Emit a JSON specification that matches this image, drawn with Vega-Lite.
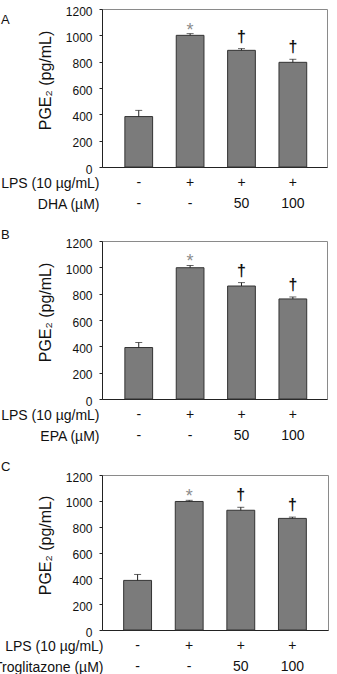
{
  "$schema": "https://vega.github.io/schema/vega-lite/v6.json",
  "background": "white",
  "autosize": {"type": "pad"},
  "padding": {"left": -7, "top": 4, "right": 0, "bottom": 0},
  "datasets": {
    "pge": [
      {"panel": "A", "key": "-|-", "value": 383, "upper": 430, "sig": ""},
      {"panel": "A", "key": "+|-", "value": 1000, "upper": 1013, "sig": "*"},
      {"panel": "A", "key": "+|50", "value": 886, "upper": 899, "sig": "†"},
      {"panel": "A", "key": "+|100", "value": 795, "upper": 818, "sig": "†"},
      {"panel": "B", "key": "-|-", "value": 391, "upper": 429, "sig": ""},
      {"panel": "B", "key": "+|-", "value": 997, "upper": 1014, "sig": "*"},
      {"panel": "B", "key": "+|50", "value": 858, "upper": 884, "sig": "†"},
      {"panel": "B", "key": "+|100", "value": 760, "upper": 775, "sig": "†"},
      {"panel": "C", "key": "-|-", "value": 384, "upper": 430, "sig": ""},
      {"panel": "C", "key": "+|-", "value": 995, "upper": 1004, "sig": "*"},
      {"panel": "C", "key": "+|50", "value": 927, "upper": 950, "sig": "†"},
      {"panel": "C", "key": "+|100", "value": 864, "upper": 874, "sig": "†"}
    ]
  },
  "config": {
    "font": "Liberation Sans",
    "view": {"stroke": "#8a8a8a", "strokeWidth": 1},
    "axis": {"grid": false, "domainColor": "#222", "tickColor": "#222", "labelColor": "#111", "titleColor": "#111", "labelFont": "Liberation Sans", "titleFont": "Liberation Sans", "titleFontWeight": "normal", "labelOverlap": false},
    "axisY": {"title": "PGE₂ (pg/mL)", "values": [0, 200, 400, 600, 800, 1000, 1200], "tickCount": 7, "format": "d", "labelOverlap": false, "tickSize": 3, "labelPadding": 7, "labelFontSize": 12, "labelOffset": 2, "titleFontSize": 16, "titlePadding": 12},
    "title": {"font": "Liberation Sans", "fontWeight": "normal", "fontSize": 13, "color": "#111", "anchor": "start", "frame": "group"}
  },
  "spacing": 16,
  "vconcat": [
    {
      "title": {"text": "A", "dx": -101, "dy": 26},
      "width": 225, "height": 158,
      "data": {"name": "pge"},
      "transform": [{"filter": "datum.panel === 'A'"}],
      "encoding": {
        "x": {"field": "key", "type": "nominal", "sort": null, "scale": {"paddingInner": 0.46, "paddingOuter": 0.42, "align": 0.53},
          "axis": {"title": ["LPS (10 µg/mL)", "DHA (µM)"], "labelExpr": "split(datum.value, '|')", "labelAngle": 0, "ticks": false, "labelFontSize": 14, "labelLineHeight": 21, "labelPadding": 8, "titleX": -3, "titleY": 9, "titleAlign": "right", "titleBaseline": "top", "titleFontSize": 14, "titleLineHeight": 21}}
      },
      "layer": [
        {"mark": {"type": "bar", "fill": "#7b7b7b", "stroke": "#333", "strokeWidth": 1},
          "encoding": {"y": {"field": "value", "type": "quantitative", "scale": {"domain": [0, 1200], "nice": false}, "title": "PGE₂ (pg/mL)", "axis": {"titleY": 71}}}},
        {"mark": {"type": "rule", "color": "#222"}, "encoding": {"y": {"field": "value", "type": "quantitative", "title": "PGE₂ (pg/mL)", "axis": {"titleY": 71}}, "y2": {"field": "upper"}}},
        {"mark": {"type": "tick", "color": "#222", "size": 7, "thickness": 1}, "encoding": {"y": {"field": "upper", "type": "quantitative", "title": "PGE₂ (pg/mL)", "axis": {"titleY": 71}}}},
        {"transform": [{"filter": "datum.sig === '*'"}], "mark": {"type": "text", "color": "#8c8c8c", "fontSize": 18, "baseline": "alphabetic", "dy": 2}, "encoding": {"y": {"field": "upper", "type": "quantitative", "title": "PGE₂ (pg/mL)", "axis": {"titleY": 71}}, "text": {"field": "sig"}}},
        {"transform": [{"filter": "datum.sig === '†'"}], "mark": {"type": "text", "color": "#111", "fontSize": 16, "fontWeight": "bold", "baseline": "alphabetic", "dy": -7}, "encoding": {"y": {"field": "upper", "type": "quantitative", "title": "PGE₂ (pg/mL)", "axis": {"titleY": 71}}, "text": {"field": "sig"}}}
      ]
    },
    {
      "title": {"text": "B", "dx": -101, "dy": 9},
      "width": 225, "height": 158,
      "data": {"name": "pge"},
      "transform": [{"filter": "datum.panel === 'B'"}],
      "encoding": {
        "x": {"field": "key", "type": "nominal", "sort": null, "scale": {"paddingInner": 0.46, "paddingOuter": 0.42, "align": 0.53},
          "axis": {"title": ["LPS (10 µg/mL)", "EPA (µM)"], "labelExpr": "split(datum.value, '|')", "labelAngle": 0, "ticks": false, "labelFontSize": 14, "labelLineHeight": 21, "labelPadding": 8, "titleX": -3, "titleY": 9, "titleAlign": "right", "titleBaseline": "top", "titleFontSize": 14, "titleLineHeight": 21}}
      },
      "layer": [
        {"mark": {"type": "bar", "fill": "#7b7b7b", "stroke": "#333", "strokeWidth": 1},
          "encoding": {"y": {"field": "value", "type": "quantitative", "scale": {"domain": [0, 1200], "nice": false}, "title": "PGE₂ (pg/mL)", "axis": {"titleY": 71}}}},
        {"mark": {"type": "rule", "color": "#222"}, "encoding": {"y": {"field": "value", "type": "quantitative", "title": "PGE₂ (pg/mL)", "axis": {"titleY": 71}}, "y2": {"field": "upper"}}},
        {"mark": {"type": "tick", "color": "#222", "size": 7, "thickness": 1}, "encoding": {"y": {"field": "upper", "type": "quantitative", "title": "PGE₂ (pg/mL)", "axis": {"titleY": 71}}}},
        {"transform": [{"filter": "datum.sig === '*'"}], "mark": {"type": "text", "color": "#8c8c8c", "fontSize": 18, "baseline": "alphabetic", "dy": 2}, "encoding": {"y": {"field": "upper", "type": "quantitative", "title": "PGE₂ (pg/mL)", "axis": {"titleY": 71}}, "text": {"field": "sig"}}},
        {"transform": [{"filter": "datum.sig === '†'"}], "mark": {"type": "text", "color": "#111", "fontSize": 16, "fontWeight": "bold", "baseline": "alphabetic", "dy": -7}, "encoding": {"y": {"field": "upper", "type": "quantitative", "title": "PGE₂ (pg/mL)", "axis": {"titleY": 71}}, "text": {"field": "sig"}}}
      ]
    },
    {
      "title": {"text": "C", "dx": -101, "dy": 7},
      "width": 226, "height": 155,
      "data": {"name": "pge"},
      "transform": [{"filter": "datum.panel === 'C'"}],
      "encoding": {
        "x": {"field": "key", "type": "nominal", "sort": null, "scale": {"paddingInner": 0.46, "paddingOuter": 0.42, "align": 0.5},
          "axis": {"title": ["LPS (10 µg/mL)", "Troglitazone (µM)"], "labelExpr": "split(datum.value, '|')", "labelAngle": 0, "ticks": false, "labelFontSize": 14, "labelLineHeight": 21, "labelPadding": 8, "titleX": 1, "titleY": 9, "titleAlign": "right", "titleBaseline": "top", "titleFontSize": 14, "titleLineHeight": 21}}
      },
      "layer": [
        {"mark": {"type": "bar", "fill": "#7b7b7b", "stroke": "#333", "strokeWidth": 1},
          "encoding": {"y": {"field": "value", "type": "quantitative", "scale": {"domain": [0, 1200], "nice": false}, "title": "PGE₂ (pg/mL)", "axis": {"titleY": 70}}}},
        {"mark": {"type": "rule", "color": "#222"}, "encoding": {"y": {"field": "value", "type": "quantitative", "title": "PGE₂ (pg/mL)", "axis": {"titleY": 70}}, "y2": {"field": "upper"}}},
        {"mark": {"type": "tick", "color": "#222", "size": 7, "thickness": 1}, "encoding": {"y": {"field": "upper", "type": "quantitative", "title": "PGE₂ (pg/mL)", "axis": {"titleY": 70}}}},
        {"transform": [{"filter": "datum.sig === '*'"}], "mark": {"type": "text", "color": "#8c8c8c", "fontSize": 18, "baseline": "alphabetic", "dy": 2}, "encoding": {"y": {"field": "upper", "type": "quantitative", "title": "PGE₂ (pg/mL)", "axis": {"titleY": 70}}, "text": {"field": "sig"}}},
        {"transform": [{"filter": "datum.sig === '†'"}], "mark": {"type": "text", "color": "#111", "fontSize": 16, "fontWeight": "bold", "baseline": "alphabetic", "dy": -7}, "encoding": {"y": {"field": "upper", "type": "quantitative", "title": "PGE₂ (pg/mL)", "axis": {"titleY": 70}}, "text": {"field": "sig"}}}
      ]
    }
  ]
}
